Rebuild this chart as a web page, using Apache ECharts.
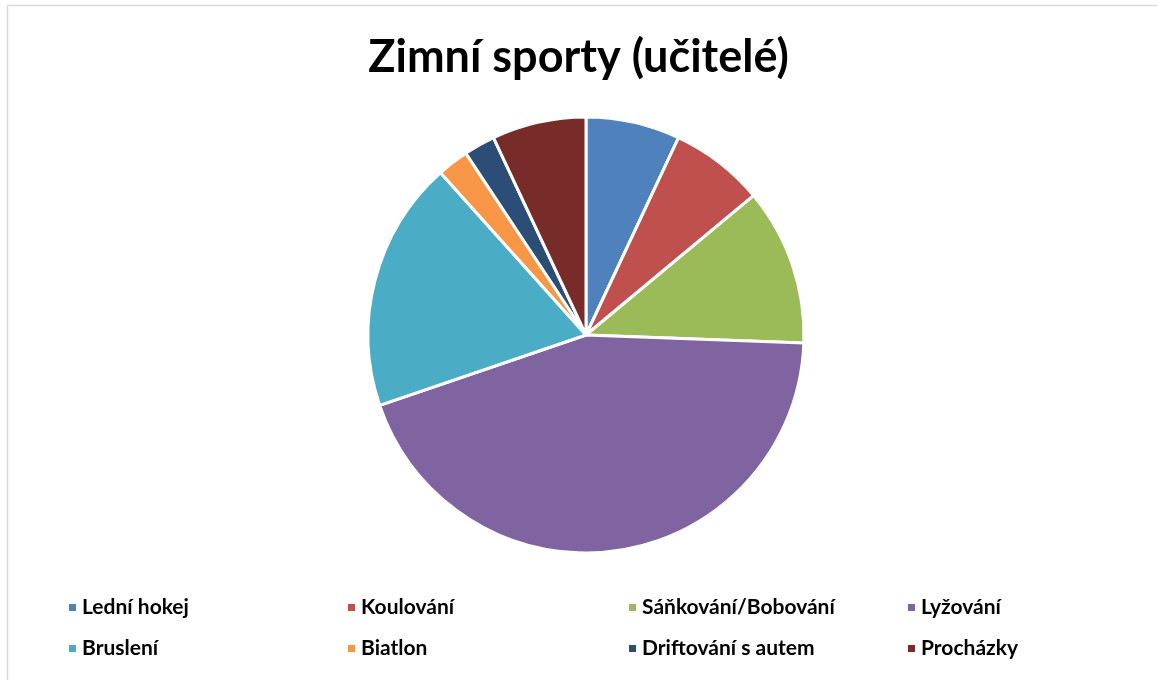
<!doctype html>
<html>
<head>
<meta charset="utf-8">
<title>Zimní sporty</title>
<script src="https://cdn.jsdelivr.net/npm/echarts@6/dist/echarts.min.js"></script>
<style>
  html, body { margin: 0; padding: 0; background: #fff; }
  #main { width: 1157px; height: 680px; }
</style>
</head>
<body>
<div id="main"></div>
<script>
// data
var sports = ['Lední hokej', 'Koulování', 'Sáňkování/Bobování', 'Lyžování',
              'Bruslení', 'Biatlon', 'Driftování s autem', 'Procházky'];
var counts = [3, 3, 5, 19, 8, 1, 1, 3];
var colors = ['#4F81BD', '#C0504D', '#9BBB59', '#8064A2',
              '#4BACC6', '#F79646', '#2C4D75', '#772C2A'];

var font = 'Lato, "Noto Sans", sans-serif';

var pieData = [];
for (var i = 0; i < sports.length; i++) {
  pieData.push({ name: sports[i], value: counts[i], itemStyle: { color: colors[i] } });
}

// 4 legend columns, two rows each
var colLeft = [62, 341, 622, 901];
var legends = [];
for (var c = 0; c < 4; c++) {
  legends.push({
    orient: 'vertical',
    left: colLeft[c],
    top: 592,
    itemWidth: 9,
    itemHeight: 9,
    itemGap: 20,
    icon: 'rect',
    data: [sports[c], sports[c + 4]],
    textStyle: { fontFamily: font, fontWeight: 'bold', fontSize: 21, color: '#000' }
  });
}

var myChart = echarts.init(document.getElementById('main'));
var option = {
  animation: false,
  backgroundColor: '#fff',
  title: {
    text: 'Zimní sporty (učitelé)',
    left: 'center',
    top: 30,
    textStyle: { fontFamily: font, fontWeight: 'bold', fontSize: 45, color: '#000' }
  },
  legend: legends,
  graphic: [{
    type: 'rect',
    shape: { x: 7.5, y: 5.5, width: 1160, height: 690 },
    style: { fill: 'none', stroke: '#d9d9d9', lineWidth: 1.5 },
    silent: true
  }],
  series: [{
    type: 'pie',
    center: [586, 335],
    radius: 218,
    startAngle: 90,
    clockwise: true,
    label: { show: false },
    labelLine: { show: false },
    itemStyle: { borderColor: '#fff', borderWidth: 3 },
    emphasis: { disabled: true },
    data: pieData
  }]
};
myChart.setOption(option);
</script>
</body>
</html>
